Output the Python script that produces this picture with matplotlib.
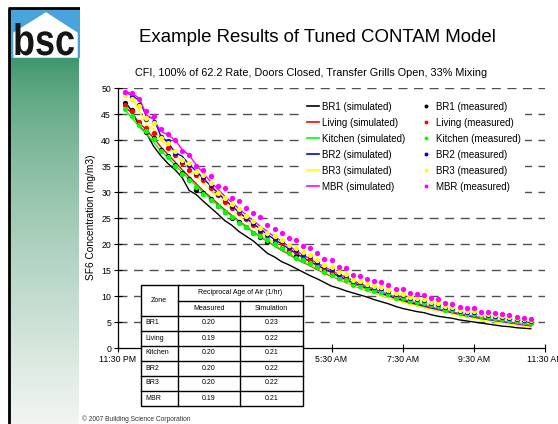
import numpy as np
import matplotlib.pyplot as plt
from matplotlib.patches import Rectangle, Polygon, PathPatch
from matplotlib.lines import Line2D
from matplotlib.transforms import Affine2D
from matplotlib.textpath import TextPath
from matplotlib.font_manager import FontProperties

plt.rcParams['font.family'] = ['Liberation Sans', 'DejaVu Sans']

W, H = 558, 424

#%% Data
# sampling times, minutes after 11:30 PM
minutes = np.arange(12, 697, 12)
hours = minutes / 60

zones = ['BR1', 'Living', 'Kitchen', 'BR2', 'BR3', 'MBR']
colors = ['black', '#ff0000', '#00ff00', '#0000ff', '#ffff00', '#ff00ff']

sim_br1 = [47.3, 45.5, 42.6, 41.3, 38.8, 37.0, 35.5, 34.3, 32.8, 30.3,
           29.5, 28.2, 27.0, 25.8, 24.5, 23.6, 22.4, 21.5, 20.6, 19.4,
           18.2, 17.5, 16.6, 16.0, 15.3, 14.6, 13.9, 13.3, 12.6, 11.9,
           11.5, 11.0, 10.6, 10.2, 9.8, 9.3, 8.9, 8.5, 8.0, 7.6,
           7.3, 7.0, 6.8, 6.4, 6.1, 5.9, 5.7, 5.4, 5.2, 5.0,
           4.8, 4.6, 4.4, 4.2, 4.1, 3.9, 3.8, 3.7]
sim_living = [46.5, 45.0, 43.3, 41.9, 40.4, 38.7, 37.2, 35.8, 34.3, 32.9,
              31.6, 30.2, 29.0, 27.8, 26.6, 25.5, 24.4, 23.4, 22.3, 21.4,
              20.5, 19.6, 18.8, 18.0, 17.2, 16.5, 15.8, 15.1, 14.4, 13.8,
              13.2, 12.6, 12.1, 11.5, 11.0, 10.6, 10.1, 9.7, 9.3, 8.9,
              8.5, 8.2, 7.8, 7.5, 7.2, 6.9, 6.6, 6.3, 6.0, 5.8,
              5.5, 5.3, 5.1, 4.9, 4.7, 4.5, 4.3, 4.1]
sim_kitchen = [45.8, 44.2, 42.5, 41.2, 39.6, 38.0, 36.6, 35.2, 33.8, 32.5,
               31.2, 29.9, 28.7, 27.5, 26.4, 25.3, 24.3, 23.3, 22.3, 21.4,
               20.5, 19.7, 18.9, 18.1, 17.3, 16.6, 15.9, 15.2, 14.6, 14.0,
               13.4, 12.8, 12.3, 11.7, 11.2, 10.8, 10.3, 9.9, 9.5, 9.1,
               8.7, 8.4, 8.0, 7.7, 7.4, 7.1, 6.8, 6.5, 6.2, 6.0,
               5.7, 5.5, 5.3, 5.1, 4.9, 4.7, 4.5, 4.3]
sim_br2 = [49.2, 48.4, 47.7, 44.5, 44.2, 40.8, 39.6, 37.6, 36.9, 35.3,
           34.0, 32.6, 31.2, 29.9, 28.5, 27.3, 26.1, 25.0, 23.9, 22.9,
           21.8, 20.9, 20.0, 19.1, 18.2, 17.4, 16.6, 15.9, 15.2, 14.5,
           13.8, 13.2, 12.6, 12.0, 11.5, 11.0, 10.5, 10.1, 9.6, 9.2,
           8.8, 8.4, 8.1, 7.7, 7.4, 7.1, 6.8, 6.5, 6.2, 5.9,
           5.7, 5.4, 5.2, 5.0, 4.8, 4.6, 4.4, 4.3]
sim_br3 = [49.0, 48.2, 45.5, 42.9, 42.2, 40.0, 38.8, 37.4, 35.8, 34.6,
           33.0, 31.8, 30.4, 29.1, 27.8, 26.6, 25.5, 24.3, 23.3, 22.2,
           21.2, 20.2, 19.3, 18.5, 17.6, 16.8, 16.1, 15.3, 14.6, 14.0,
           13.3, 12.7, 12.1, 11.6, 11.0, 10.6, 10.1, 9.7, 9.2, 8.8,
           8.4, 8.1, 7.7, 7.4, 7.1, 6.8, 6.5, 6.2, 5.9, 5.7,
           5.4, 5.2, 5.0, 4.8, 4.6, 4.4, 4.2, 4.0]
sim_mbr = [49.3, 49.0, 48.0, 44.8, 44.0, 41.7, 41.0, 40.0, 38.2, 37.1,
           35.2, 33.6, 32.0, 30.6, 29.2, 28.0, 26.8, 25.6, 24.5, 23.4,
           22.4, 21.4, 20.5, 19.6, 18.7, 17.9, 17.1, 16.3, 15.6, 14.9,
           14.2, 13.6, 13.0, 12.4, 11.8, 11.3, 10.8, 10.3, 9.8, 9.4,
           9.0, 8.6, 8.2, 7.9, 7.5, 7.2, 6.9, 6.6, 6.3, 6.1,
           5.8, 5.6, 5.3, 5.1, 4.9, 4.7, 4.5, 4.3]

meas_br1 = [47.2, 45.8, 43.2, 41.6, 40.4, 38.0, 37.0, 35.2, 33.6, 32.5,
            30.4, 29.8, 28.6, 27.3, 26.2, 25.0, 24.2, 23.2, 22.2, 21.4,
            20.3, 20.1, 19.3, 18.4, 17.6, 17.0, 16.5, 15.6, 14.8, 14.3,
            13.5, 13.2, 12.3, 12.1, 11.5, 11.1, 10.9, 10.4, 9.8, 9.7,
            9.1, 8.9, 8.7, 8.2, 8.1, 7.5, 7.4, 6.9, 6.7, 6.6,
            6.2, 6.1, 5.9, 5.7, 5.5, 5.3, 5.1, 5.0]
meas_living = [46.7, 45.6, 43.5, 42.3, 41.4, 40.6, 38.4, 37.1, 35.5, 34.2,
               33.3, 32.3, 30.8, 29.4, 28.0, 26.9, 25.9, 24.8, 23.6, 22.4,
               21.6, 20.7, 20.1, 18.9, 18.4, 17.5, 17.1, 16.2, 15.3, 14.9,
               14.0, 13.7, 12.6, 12.4, 11.8, 11.4, 11.2, 10.7, 10.0, 9.9,
               9.3, 9.1, 8.9, 8.4, 8.3, 7.6, 7.5, 7.0, 6.8, 6.7,
               6.3, 6.2, 6.0, 5.8, 5.6, 5.4, 5.2, 5.0]
meas_kitchen = [46.0, 44.6, 42.8, 41.8, 40.2, 37.8, 36.7, 35.0, 33.5, 32.4,
                30.9, 29.6, 28.5, 27.4, 26.1, 25.1, 24.1, 23.3, 22.1, 21.5,
                20.7, 20.0, 19.2, 18.3, 17.4, 16.9, 16.3, 15.5, 14.6, 14.1,
                13.4, 13.1, 12.2, 12.0, 11.4, 11.0, 10.8, 10.3, 9.7, 9.6,
                9.0, 8.8, 8.6, 8.2, 8.0, 7.4, 7.3, 6.8, 6.6, 6.5,
                6.1, 6.0, 5.8, 5.6, 5.4, 5.2, 5.0, 4.9]
meas_br2 = [49.0, 48.3, 46.8, 44.0, 43.5, 40.6, 39.8, 37.5, 36.0, 35.2,
            33.6, 32.9, 31.3, 29.6, 28.6, 27.3, 26.5, 25.0, 24.1, 22.7,
            21.9, 21.2, 20.5, 19.5, 18.9, 18.1, 17.6, 16.6, 15.7, 15.2,
            14.3, 14.0, 12.9, 12.7, 12.1, 11.7, 11.5, 11.0, 10.3, 10.2,
            9.6, 9.4, 9.2, 8.7, 8.5, 7.8, 7.7, 7.2, 7.0, 6.9,
            6.5, 6.4, 6.2, 6.0, 5.8, 5.6, 5.4, 5.2]
meas_br3 = [48.6, 47.8, 46.5, 44.2, 43.2, 40.3, 39.5, 37.9, 36.2, 35.5,
            33.9, 33.3, 31.7, 29.8, 28.9, 27.6, 26.8, 25.3, 24.4, 23.0,
            22.2, 21.5, 20.8, 19.8, 19.2, 18.4, 17.9, 16.9, 16.0, 15.5,
            14.6, 14.3, 13.1, 12.9, 12.3, 11.9, 11.7, 11.2, 10.5, 10.4,
            9.8, 9.6, 9.4, 8.9, 8.7, 8.0, 7.9, 7.3, 7.1, 7.1,
            6.6, 6.6, 6.4, 6.1, 5.9, 5.7, 5.5, 5.3]
meas_mbr = [49.3, 49.0, 47.8, 45.6, 44.6, 42.1, 41.1, 40.0, 37.9, 37.2,
            35.0, 34.2, 33.0, 31.2, 30.7, 28.8, 28.2, 27.0, 25.9, 25.1,
            23.7, 22.8, 22.2, 21.1, 20.7, 19.7, 19.2, 18.3, 17.2, 16.9,
            15.6, 15.4, 14.0, 13.9, 13.3, 12.8, 12.6, 12.1, 11.3, 11.3,
            10.5, 10.3, 10.1, 9.6, 9.4, 8.6, 8.5, 7.8, 7.6, 7.6,
            7.0, 7.0, 6.8, 6.5, 6.3, 6.0, 5.8, 5.6]

simulated = [sim_br1, sim_living, sim_kitchen, sim_br2, sim_br3, sim_mbr]
measured = [meas_br1, meas_living, meas_kitchen, meas_br2, meas_br3, meas_mbr]

rate_measured = ['0.20', '0.19', '0.20', '0.20', '0.20', '0.19']
rate_simulated = ['0.23', '0.22', '0.21', '0.22', '0.22', '0.21']

x_ticks = [0, 2, 4, 6, 8, 10, 12]
# 1:30 AM and 3:30 AM sit under the table in the original
x_labels = ['11:30 PM', '', '', '5:30 AM', '7:30 AM', '9:30 AM', '11:30 AM']

#%% Figure
fig = plt.figure(figsize=(W / 100, H / 100), dpi=100)
px = Affine2D().scale(1 / W, -1 / H).translate(0, 1) + fig.transFigure

# left side bar with logo
side = fig.add_axes([0, 0, 80 / W, 1])
side.set_xlim(0, 80)
side.set_ylim(H, 0)
side.axis('off')
g = np.linspace(0, 1, 256)[:, None, None] ** 0.7
top_c = np.array([58, 148, 104]) / 255
bot_c = np.array([242, 245, 242]) / 255
side.imshow(top_c + (bot_c - top_c) * g, extent=(10, 79, H, 57), aspect='auto')
side.add_patch(Rectangle((10, 9), 69, 48, color='#4aa3dc'))
side.add_patch(Polygon([(14, 57), (14, 33), (46, 13), (77, 33), (77, 57)],
                       closed=True, color='white'))
tp = TextPath((0, 0), 'bsc', size=1,
              prop=FontProperties(family='Liberation Sans', weight='bold'))
side.add_patch(PathPatch(tp, color='#151515', lw=0,
                         transform=Affine2D().scale(36, -44).translate(13, 55)
                         + side.transData))
side.plot([9, 9], [8, H], color='black', lw=2, solid_capstyle='butt')
side.plot([8, 80], [8, 8], color='black', lw=2, solid_capstyle='butt')

# main chart
ax = fig.add_axes([118 / W, 1 - 348 / H, 427 / W, 260 / H])
ax.set_xlim(0, 12)
ax.set_ylim(0, 50)
for s in ['top', 'right']:
    ax.spines[s].set_visible(False)
ax.spines['left'].set_linewidth(0.9)
ax.spines['bottom'].set_linewidth(0.9)
ax.set_yticks(range(0, 51, 5))
ax.set_xticks(x_ticks)
ax.set_xticklabels(x_labels)
ax.tick_params(direction='inout', length=6, width=0.8, labelsize=6.3, pad=2)
for yv in range(5, 51, 5):
    ax.axhline(yv, color='#505050', lw=1, dashes=(6.5, 4.7), zorder=1)

for vals, c in zip(simulated, colors):
    ax.plot(hours, vals, color=c, lw=1.0, zorder=2)
for vals, c in zip(measured, colors):
    ax.plot(hours, vals, 'o', color=c, ms=3.8, mew=0, zorder=3)

handles = [Line2D([], [], color=c, lw=1.2) for c in colors] + \
          [Line2D([], [], color=c, marker='o', ls='none', ms=2.8, mew=0) for c in colors]
labels = [f'{z} (simulated)' for z in zones] + [f'{z} (measured)' for z in zones]
ax.legend(handles, labels, ncol=2, loc='upper left', bbox_to_anchor=(297, 92),
          bbox_transform=px, fontsize=7.0, frameon=True, fancybox=False,
          edgecolor='none', facecolor='white', framealpha=1,
          handlelength=1.3, handletextpad=0.3, columnspacing=1.5,
          labelspacing=0.62, borderpad=0.5)

# titles
fig.text(317, 37, 'Example Results of Tuned CONTAM Model', transform=px,
         ha='center', va='center', fontsize=13.4)
fig.text(311, 73, 'CFI, 100% of 62.2 Rate, Doors Closed, Transfer Grills Open, 33% Mixing',
         transform=px, ha='center', va='center', fontsize=7.8)
fig.text(91, 217, 'SF6 Concentration (mg/m3)', transform=px, rotation=90,
         ha='center', va='center', fontsize=7.3)
fig.text(82, 419, '\u00a9 2007 Building Science Corporation', transform=px,
         ha='left', va='center', fontsize=4.8, color='#333333')

# reciprocal age of air table
tx = [141, 177.5, 240, 303]
ty = [285, 300.5, 315.5, 330.5, 345.5, 360.5, 375.5, 390.5, 405.5]
fig.add_artist(Rectangle((tx[0], ty[0]), tx[3] - tx[0], ty[-1] - ty[0],
                         facecolor='white', edgecolor='black', lw=1, transform=px))
def tline(xs, ys):
    fig.add_artist(Line2D(xs, ys, color='black', lw=1, transform=px))
tline([tx[1], tx[1]], [ty[0], ty[-1]])
tline([tx[2], tx[2]], [ty[1], ty[-1]])
tline([tx[1], tx[3]], [ty[1], ty[1]])
for yy in ty[2:-1]:
    tline([tx[0], tx[3]], [yy, yy])
fs = 5
fig.text((tx[0] + tx[1]) / 2, ty[1], 'Zone', transform=px, ha='center', va='center', fontsize=fs)
fig.text((tx[1] + tx[3]) / 2, (ty[0] + ty[1]) / 2, 'Reciprocal Age of Air (1/hr)',
         transform=px, ha='center', va='center', fontsize=fs)
fig.text((tx[1] + tx[2]) / 2, (ty[1] + ty[2]) / 2, 'Measured', transform=px,
         ha='center', va='center', fontsize=fs)
fig.text((tx[2] + tx[3]) / 2, (ty[1] + ty[2]) / 2, 'Simulation', transform=px,
         ha='center', va='center', fontsize=fs)
for i, (z, m, s) in enumerate(zip(zones, rate_measured, rate_simulated)):
    yc = (ty[i + 2] + ty[i + 3]) / 2
    fig.text(tx[0] + 4, yc, z, transform=px, ha='left', va='center', fontsize=fs)
    fig.text((tx[1] + tx[2]) / 2, yc, m, transform=px, ha='center', va='center', fontsize=fs)
    fig.text((tx[2] + tx[3]) / 2, yc, s, transform=px, ha='center', va='center', fontsize=fs)

fig.savefig('out.png', dpi=100)
